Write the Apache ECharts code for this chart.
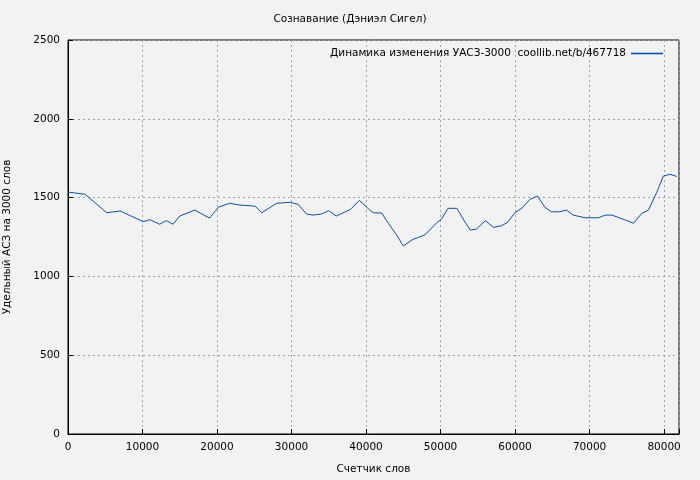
<!DOCTYPE html>
<html>
<head>
<meta charset="utf-8">
<script src="https://cdn.jsdelivr.net/npm/echarts@6/dist/echarts.min.js"></script>
<style>
  html, body { margin: 0; padding: 0; background: #f2f2f2; }
  #chart { width: 700px; height: 480px; }
</style>
</head>
<body>
<div id="chart"></div>
<script>
const words = [0, 2300, 5200, 7000, 10100, 11000, 12300, 13200, 14100, 15000, 17000, 19000,
  20200, 21700, 23000, 25100, 26000, 28000, 29800, 30900, 32000, 32900, 34000, 35000, 36000,
  37900, 39100, 40500, 41000, 42100, 43000, 44100, 45000, 46300, 47900, 49500, 50100, 51000,
  52200, 53100, 54000, 54800, 56000, 57100, 58200, 59000, 60000, 60900, 62000, 63000, 64000,
  64900, 66000, 66900, 67800, 69400, 71200, 72100, 73000, 75000, 75900, 77000, 77900, 79000,
  79900, 80800, 81700];
const values = [1535, 1521, 1404, 1415, 1347, 1360, 1331, 1354, 1331, 1383, 1421, 1370,
  1439, 1464, 1453, 1446, 1404, 1464, 1470, 1457, 1396, 1389, 1396, 1417, 1383,
  1425, 1482, 1421, 1404, 1402, 1337, 1263, 1193, 1235, 1263, 1341, 1362, 1432,
  1432, 1358, 1294, 1300, 1354, 1311, 1322, 1343, 1406, 1432, 1489, 1510, 1439,
  1410, 1410, 1421, 1389, 1372, 1372, 1389, 1389, 1354, 1337, 1400, 1421, 1532,
  1637, 1648, 1634];
const xTicks = [0, 10000, 20000, 30000, 40000, 50000, 60000, 70000, 80000];
const yTicks = [0, 500, 1000, 1500, 2000, 2500];

const grafico = echarts.init(document.getElementById("chart"));
const fnt = "DejaVu Sans";
const grid = { show: true, lineStyle: { color: "#a0a0a0", type: [2, 3], width: 1 } };

grafico.setOption({
  backgroundColor: "#f2f2f2",
  animation: false,
  textStyle: { fontFamily: fnt },
  title: {
    text: "Сознавание (Дэниэл Сигел)",
    left: "center", top: 9,
    textStyle: { fontSize: 10.5, fontWeight: "normal", color: "#000", fontFamily: fnt }
  },
  legend: {
    right: 32, top: 43,
    icon: "path://M0,0H1V0.05H0Z",
    itemWidth: 32, itemHeight: 2,
    align: "right",
    textStyle: { fontSize: 10.5, color: "#000", fontFamily: fnt },
    data: ["Динамика изменения УАСЗ-3000  coollib.net/b/467718"]
  },
  grid: { left: 68, right: 21, top: 40, bottom: 46, show: true, borderColor: "#000", borderWidth: 1,
    containLabel: false, outerBoundsMode: "none" },
  xAxis: {
    type: "value", min: 0, max: 82000, interval: 10000,
    name: "Счетчик слов", nameLocation: "middle", nameGap: 30,
    nameTextStyle: { fontSize: 10.5, color: "#000" },
    axisLine: { lineStyle: { color: "#000" } },
    axisTick: { inside: true, length: 5, lineStyle: { color: "#000" } },
    axisLabel: { fontSize: 10.5, color: "#000",
      formatter: v => xTicks.includes(v) ? String(v) : "" },
    splitLine: grid
  },
  yAxis: {
    type: "value", min: 0, max: 2500, interval: 500,
    name: "Удельный АСЗ на 3000 слов", nameLocation: "middle", nameGap: 55,
    nameTextStyle: { fontSize: 10.5, color: "#000" },
    axisLine: { lineStyle: { color: "#000" } },
    axisTick: { inside: true, length: 5, lineStyle: { color: "#000" } },
    axisLabel: { fontSize: 10.5, color: "#000", formatter: v => yTicks.includes(v) ? String(v) : "" },
    splitLine: grid
  },
  series: [{
    name: "Динамика изменения УАСЗ-3000  coollib.net/b/467718",
    type: "line",
    data: words.map((w, i) => [w, values[i]]),
    showSymbol: false,
    lineStyle: { color: "#0a4fb5", width: 1 },
    itemStyle: { color: "#0a4fb5" }
  }]
});
</script>
</body>
</html>
